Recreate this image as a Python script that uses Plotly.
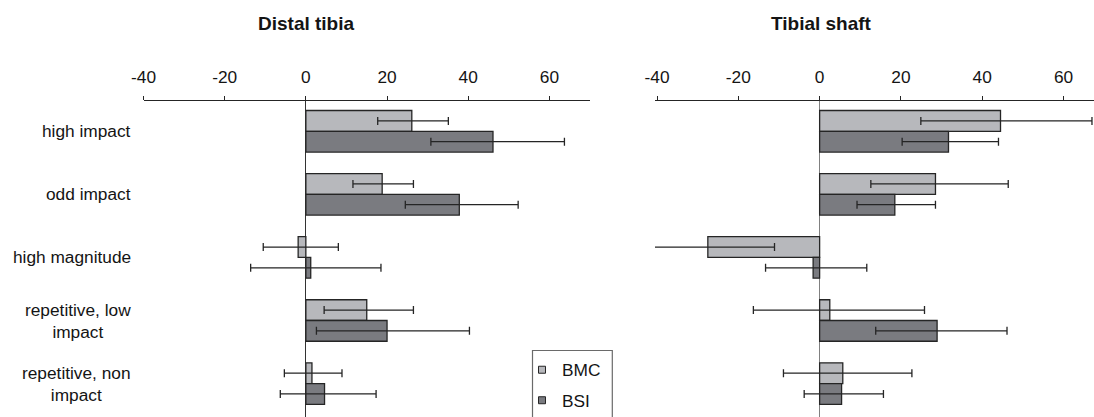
import plotly.graph_objects as go

# ---------------- data ----------------
categories = ["high impact", "odd impact", "high magnitude",
              "repetitive, low impact", "repetitive, non impact"]
category_labels = ["high impact", "odd impact", "high magnitude",
                   "repetitive, low<br>impact", "repetitive, non<br>impact"]

# Distal tibia
bmc_dt = [26.1, 18.8, -1.9, 15.0, 1.5]
bmc_dt_lo = [17.7, 11.6, -10.5, 4.5, -5.3]
bmc_dt_hi = [35.1, 26.5, 8.0, 26.5, 8.9]
bsi_dt = [46.1, 37.8, 1.2, 20.0, 4.6]
bsi_dt_lo = [30.8, 24.5, -13.6, 2.6, -6.3]
bsi_dt_hi = [63.7, 52.3, 18.5, 40.3, 17.3]

# Tibial shaft
bmc_ts = [44.5, 28.5, -27.5, 2.5, 5.7]
bmc_ts_lo = [24.9, 12.6, -43.9, -16.3, -8.9]
bmc_ts_hi = [67.0, 46.4, -11.1, 25.8, 22.7]
bsi_ts = [31.7, 18.5, -1.6, 28.9, 5.4]
bsi_ts_lo = [20.3, 9.2, -13.3, 13.8, -3.8]
bsi_ts_hi = [44.0, 28.5, 11.6, 46.1, 15.7]

series_names = ["BMC", "BSI"]
panel_titles = ["Distal tibia", "Tibial shaft"]
tick_values = [-40, -20, 0, 20, 40, 60]
tick_labels = ["-40", "-20", "0", "20", "40", "60"]

# ---------------- style ----------------
W, H = 1094, 417
T = 101
PLOT_H = H - T
FONT = "Liberation Sans, Arial, sans-serif"
TXT = "#141414"
C_BMC = "#b7b8bc"
C_BSI = "#7a7b80"
EDGE = "#252525"


def px_x(p):
    return p / W


def px_y(p):
    return 1 - (p - T) / PLOT_H


def errs(vals, lo, hi):
    plus = [h - v for v, h in zip(vals, hi)]
    minus = [v - l for v, l in zip(vals, lo)]
    return plus, minus


fig = go.Figure()

panels = [
    ("x", "y", [(bmc_dt, bmc_dt_lo, bmc_dt_hi), (bsi_dt, bsi_dt_lo, bsi_dt_hi)]),
    ("x2", "y2", [(bmc_ts, bmc_ts_lo, bmc_ts_hi), (bsi_ts, bsi_ts_lo, bsi_ts_hi)]),
]
colors = [C_BMC, C_BSI]
for xa, ya, series in panels:
    for (vals, lo, hi), name, col in zip(series, series_names, colors):
        plus, minus = errs(vals, lo, hi)
        fig.add_trace(go.Bar(
            x=vals, y=categories, orientation="h", name=name,
            xaxis=xa, yaxis=ya, showlegend=False,
            marker=dict(color=col, line=dict(color=EDGE, width=1.3)),
            error_x=dict(type="data", symmetric=False, array=plus, arrayminus=minus,
                         color=EDGE, thickness=1.3, width=4),
        ))

# legend entries
for name, col in zip(series_names, colors):
    fig.add_trace(go.Scatter(
        x=[None], y=[None], mode="markers", name=name, legendgroup=name,
        marker=dict(symbol="square", size=7, color=col, line=dict(color=EDGE, width=1)),
        xaxis="x", yaxis="y", showlegend=True,
    ))

xcommon = dict(side="top", showline=True, linecolor=EDGE, linewidth=1.2,
               ticks="outside", ticklen=4, tickwidth=1.2, tickcolor=EDGE,
               tickvals=tick_values, ticktext=tick_labels, showgrid=False,
               zeroline=True, zerolinewidth=1.2,
               tickfont=dict(family=FONT, size=17.3, color=TXT),
               ticklabelstandoff=6, fixedrange=True)

ycommon = dict(type="category", categoryorder="array", categoryarray=categories,
               range=[4.53, -0.48], showline=False, showticklabels=False,
               showgrid=False, zeroline=False, ticks="")

fig.update_layout(
    width=W, height=H,
    margin=dict(l=0, r=0, t=T, b=0, autoexpand=False),
    paper_bgcolor="white", plot_bgcolor="white",
    barmode="group", bargap=0.342, bargroupgap=0.0,
    xaxis=dict(domain=[px_x(143.5), px_x(590)], range=[-40, 70], anchor="y",
               zerolinecolor="#333333", **xcommon),
    xaxis2=dict(domain=[px_x(655.0), 1.0], range=[-40.5, 67.5], anchor="y2",
                zerolinecolor="#808080", **xcommon),
    yaxis=dict(domain=[0, 1], anchor="x", **ycommon),
    yaxis2=dict(domain=[0, 1], anchor="x2", **ycommon),
    showlegend=True,
    legend=dict(x=px_x(522), y=px_y(352), xanchor="left", yanchor="top",
                bgcolor="rgba(0,0,0,0)", borderwidth=0,
                font=dict(family=FONT, size=17.3, color=TXT),
                traceorder="grouped", tracegroupgap=5),
    font=dict(family=FONT, color=TXT),
)

# panel titles
for title, cx in zip(panel_titles, [306, 821]):
    fig.add_annotation(text="<b>" + title + "</b>", x=px_x(cx), y=px_y(23),
                       xref="paper", yref="paper", xanchor="center", yanchor="middle",
                       showarrow=False, font=dict(family=FONT, size=19, color=TXT))

# category labels (centered multi-line, right-anchored)
for cat, lab in zip(categories, category_labels):
    fig.add_annotation(text=lab, x=px_x(133), y=cat, xref="paper", yref="y",
                       xanchor="right", yanchor="middle", align="center",
                       showarrow=False, font=dict(family=FONT, size=17.3, color=TXT))

# legend frame
fig.add_shape(type="rect", xref="paper", yref="paper",
              x0=px_x(532.5), x1=px_x(612.3), y0=px_y(440), y1=px_y(350.5),
              line=dict(color="#6a6a6a", width=1.2), fillcolor="rgba(0,0,0,0)", layer="below")

fig.write_html("out.html")
